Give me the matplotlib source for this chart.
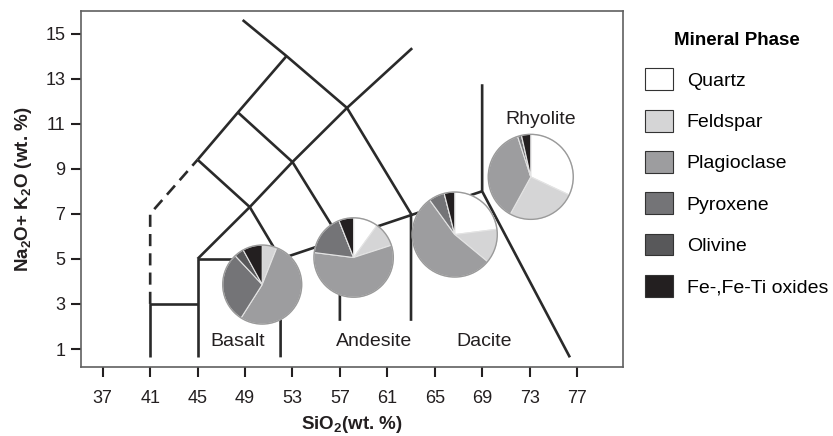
import matplotlib
matplotlib.use("Agg")
import matplotlib.pyplot as plt
from matplotlib.patches import Patch, Circle

plt.rcParams["font.family"] = ["Liberation Sans", "DejaVu Sans"]
plt.rcParams["mathtext.default"] = "regular"

# mineral phases, in slice order (clockwise from 12 o'clock)
phases = ["Quartz", "Feldspar", "Plagioclase", "Pyroxene", "Olivine", "Fe-,Fe-Ti oxides"]
phase_colours = ["#ffffff", "#d5d5d6", "#9d9d9f", "#747477", "#58585a", "#231f20"]

# modal proportions (%) of each rock
rocks = ["Basalt", "Andesite", "Dacite", "Rhyolite"]
basalt = [0, 6, 53, 29, 4, 8]
andesite = [10, 10, 57, 17, 0, 6]
dacite = [23, 13, 54, 6, 0, 4]
rhyolite = [32, 26, 37, 1.5, 0, 3.5]
modes = [basalt, andesite, dacite, rhyolite]

# pie centres on the TAS diagram
pie_sio2 = [50.45, 58.16, 66.69, 73.1]
pie_alk = [3.86, 5.06, 6.08, 8.64]
pie_radius_px = [39.5, 39.7, 42.5, 42.5]

# rock name positions
label_sio2 = [48.4, 59.9, 69.2, 73.9]
label_alk = [1.35, 1.35, 1.35, 11.2]

x_ticks = [37, 41, 45, 49, 53, 57, 61, 65, 69, 73, 77]
y_ticks = [1, 3, 5, 7, 9, 11, 13, 15]

# TAS field boundaries (SiO2, Na2O+K2O)
solid_lines = [
    [(41, 0.63), (41, 3), (45, 3)],
    [(45, 0.63), (45, 5), (52, 5)],
    [(52, 0.63), (52, 5), (69, 8)],
    [(45, 5), (49.4, 7.3), (53, 9.3), (57.6, 11.7), (63.1, 14.35)],
    [(45, 9.4), (48.4, 11.5), (52.5, 14)],
    [(48.8, 15.6), (52.5, 14), (57.6, 11.7), (63, 7), (63, 2.25)],
    [(45, 9.4), (49.4, 7.3), (52, 5)],
    [(48.4, 11.5), (53, 9.3), (57, 5.9), (57, 2.25)],
    [(69, 12.75), (69, 8), (76.4, 0.63)],
]
dashed_lines = [
    [(41, 3), (41, 7), (45, 9.4)],
]

W, H = 833, 436
fig = plt.figure(figsize=(W / 100, H / 100), dpi=100)
ax = fig.add_axes([80.7 / W, 1 - 366.7 / H, (623 - 80.7) / W, (366.7 - 11) / H])
ax.set_xlim(35.14, 80.88)
ax.set_ylim(0.215, 16)

line_col = "#2a2a2a"
for seg in solid_lines:
    xs, ys = zip(*seg)
    ax.plot(xs, ys, color=line_col, lw=1.9, solid_capstyle="butt")
for seg in dashed_lines:
    xs, ys = zip(*seg)
    ax.plot(xs, ys, color=line_col, lw=1.9, linestyle=(0, (4.6, 2.7)))

for name, x, y in zip(rocks, label_sio2, label_alk):
    ax.text(x, y, name, ha="center", va="center", fontsize=14, color="#231f20")

ax.set_xticks(x_ticks)
ax.set_yticks(y_ticks)
ax.tick_params(direction="out", length=7, width=1.5, color="#231f20",
               labelsize=13, labelcolor="#231f20")
ax.tick_params(axis="x", pad=9.5)
ax.tick_params(axis="y", pad=4)
for sp in ax.spines.values():
    sp.set_color("#606060")
    sp.set_linewidth(1.2)

ax.set_xlabel("SiO$_2$(wt. %)", fontsize=13.5, fontweight="bold", color="#231f20", labelpad=5)
ax.set_ylabel("Na$_2$O+ K$_2$O (wt. %)", fontsize=13.5, fontweight="bold", color="#231f20", labelpad=8)

# pies placed at their data positions
to_fig = fig.transFigure.inverted()
for vals, x, y, r in zip(modes, pie_sio2, pie_alk, pie_radius_px):
    px, py = ax.transData.transform((x, y))
    fx, fy = to_fig.transform((px, py))
    rr = r * 1.03
    pax = fig.add_axes([fx - rr / W, fy - rr / H, 2 * rr / W, 2 * rr / H])
    pax.pie(vals, colors=phase_colours, startangle=90, counterclock=False,
            wedgeprops=dict(edgecolor="#e4e4e4", linewidth=0.8))
    pax.add_patch(Circle((0, 0), 1, fill=False, edgecolor="#9a9a9a", lw=1.0))
    pax.set_xlim(-1.03, 1.03)
    pax.set_ylim(-1.03, 1.03)
    pax.set_aspect("equal")
    pax.axis("off")

handles = [Patch(facecolor=c, edgecolor="#333333", linewidth=0.8) for c in phase_colours]
fig.legend(handles, phases, loc="upper left", bbox_to_anchor=(645 / W, 1 - 32 / H),
           frameon=False, title="Mineral Phase",
           title_fontproperties={"weight": "bold", "size": 13.5},
           fontsize=14, handlelength=1.45, handleheight=1.35, labelspacing=1.0,
           handletextpad=0.7, borderpad=0, borderaxespad=0)

fig.savefig("out.png", dpi=100)
